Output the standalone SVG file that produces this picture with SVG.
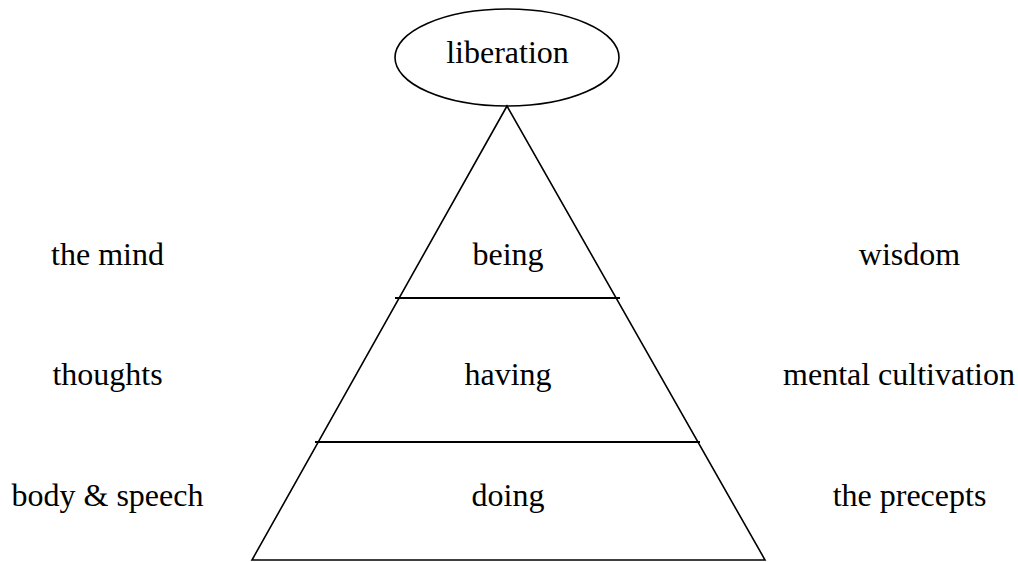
<svg xmlns="http://www.w3.org/2000/svg" width="1018" height="562" viewBox="0 0 1018 562">
<style>
.ln{stroke:#000;stroke-width:1.6;fill:none}
.hl{stroke:#000;stroke-width:2;fill:none}
.t{font-family:"Liberation Serif","Times New Roman",serif;font-size:32px;fill:#000;text-anchor:middle}
</style>
<rect width="1018" height="562" fill="#fff"/>
<g id="pyramid">
<polygon class="ln" points="507,106 252,560 765,560"/>
</g>
<g id="connectors">
<line class="hl" x1="395" y1="298" x2="620" y2="298"/>
<line class="hl" x1="315" y1="442" x2="700" y2="442"/>
</g>
<g id="liberation">
<ellipse class="ln" cx="507" cy="57.5" rx="112" ry="48.5"/>
<text class="t" x="507.5" y="63">liberation</text>
</g>
<g id="being"><text class="t" x="508" y="265">being</text></g>
<g id="having"><text class="t" x="508" y="385">having</text></g>
<g id="doing"><text class="t" x="508" y="506">doing</text></g>
<g id="the-mind"><text class="t" x="107.5" y="265">the mind</text></g>
<g id="thoughts"><text class="t" x="107.5" y="385">thoughts</text></g>
<g id="body-speech"><text class="t" x="107.5" y="506">body &amp; speech</text></g>
<g id="wisdom"><text class="t" x="909.5" y="265">wisdom</text></g>
<g id="mental-cultivation"><text class="t" x="899" y="385">mental cultivation</text></g>
<g id="the-precepts"><text class="t" x="909.5" y="506">the precepts</text></g>
</svg>
